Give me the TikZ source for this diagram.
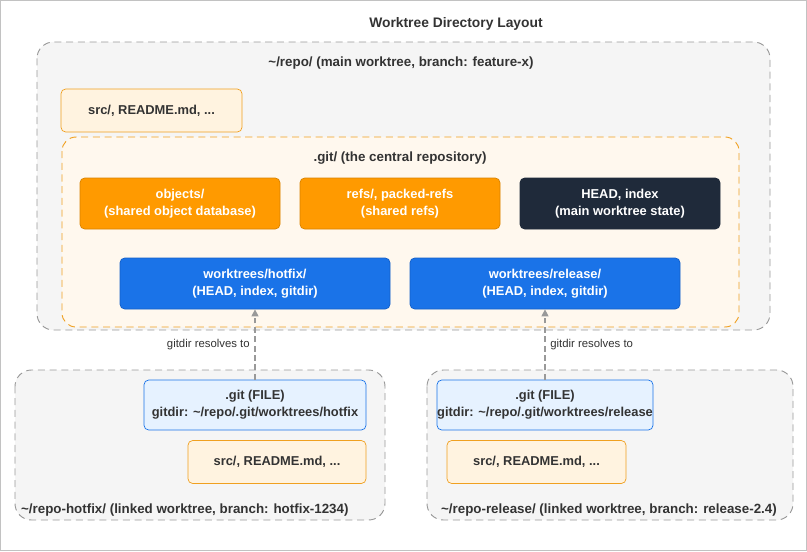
\documentclass[tikz,border=0pt]{standalone}
\usepackage{fontspec}
\setmainfont{Liberation Sans}
\usetikzlibrary{arrows.meta,positioning}
\definecolor{grp_fill}{HTML}{F5F5F5}
\definecolor{grp_line}{HTML}{999999}
\definecolor{git_fill}{HTML}{FFF8EE}
\definecolor{org_line}{HTML}{F0A020}
\definecolor{org_fill}{HTML}{FF9A00}
\definecolor{org_dark}{HTML}{D98300}
\definecolor{lor_fill}{HTML}{FFF3E0}
\definecolor{navy}{HTML}{1F2A3A}
\definecolor{blu_fill}{HTML}{1A73E8}
\definecolor{blu_dark}{HTML}{1560C8}
\definecolor{lbl_fill}{HTML}{E6F2FF}
\definecolor{txt}{HTML}{333333}
\tikzstyle{grp}=[draw=grp_line,fill=grp_fill,dash pattern=on 6pt off 4pt,rounded corners=14pt,line width=0.8pt]
\tikzstyle{gitgrp}=[draw=org_line,fill=git_fill,dash pattern=on 6pt off 4pt,rounded corners=12pt,line width=0.8pt]
\tikzstyle{bx}=[rectangle,rounded corners=4pt,line width=0.6pt,align=center,inner sep=0pt,
  font=\bfseries\fontsize{11}{14.5}\selectfont]
\tikzstyle{ob}=[bx,fill=org_fill,draw=org_dark,text=white,minimum width=200*0.03cm,minimum height=51*0.03cm]
\tikzstyle{nb}=[bx,fill=navy,draw=navy,text=white,minimum width=200*0.03cm,minimum height=51*0.03cm]
\tikzstyle{wb}=[bx,fill=blu_fill,draw=blu_dark,text=white,minimum width=270*0.03cm,minimum height=51*0.03cm]
\tikzstyle{sb}=[bx,fill=lor_fill,draw=org_line,text=txt,minimum height=43*0.03cm]
\tikzstyle{fb}=[bx,fill=lbl_fill,draw=blu_fill,text=txt,minimum height=50*0.03cm]
\tikzstyle{lbl}=[font=\bfseries\fontsize{11.4}{14}\selectfont,text=txt]
\tikzstyle{elbl}=[font=\fontsize{9.7}{11}\selectfont,text=txt,fill=white,inner sep=1pt]
\begin{document}
\begin{tikzpicture}[x=0.03cm,y=-0.03cm]
  \useasboundingbox (0,0) rectangle (807,551);
  \draw[grp_line!60,line width=0.8pt] (0.5,0.5) rectangle (806.5,550.5);
  \node[font=\bfseries\fontsize{11.8}{14}\selectfont,text=txt] (title) at (456,24) {Worktree Directory Layout};
  % main worktree
  \draw[grp] (37,42) rectangle (770,330);
  \node[lbl] (mainlbl) at (401,63) {\textasciitilde/repo/ (main worktree, branch: feature-x)};
  \node[sb,minimum width=181*0.03cm] (msrc) at (151.5,110.5) {src/, README.md, ...};
  % .git dir
  \draw[gitgrp] (62,137) rectangle (739,327);
  \node[lbl] (gitlbl) at (400,158) {.git/ (the central repository)};
  \node[ob] (obj) at (180,203.5) {objects/\\(shared object database)};
  \node[ob] (refs) at (400,203.5) {refs/, packed-refs\\(shared refs)};
  \node[nb] (head) at (620,203.5) {HEAD, index\\(main worktree state)};
  \node[wb] (wthf) at (255,283.5) {worktrees/hotfix/\\(HEAD, index, gitdir)};
  \node[wb] (wtrl) at (545,283.5) {worktrees/release/\\(HEAD, index, gitdir)};
  % linked worktrees
  \draw[grp] (15,370) rectangle (385,520);
  \draw[grp] (427,370) rectangle (793,520);
  \node[lbl,anchor=west] (hflbl) at (17,510) {\textasciitilde/repo-hotfix/ (linked worktree, branch: hotfix-1234)};
  \node[lbl,anchor=west] (rllbl) at (437,510) {\textasciitilde/repo-release/ (linked worktree, branch: release-2.4)};
  \node[fb,minimum width=222*0.03cm] (hfgit) at (255,405) {.git (FILE)\\gitdir: \textasciitilde/repo/.git/worktrees/hotfix};
  \node[sb,minimum width=178*0.03cm] (hfsrc) at (277,462) {src/, README.md, ...};
  \node[fb,minimum width=216*0.03cm] (rlgit) at (545,405) {.git (FILE)\\gitdir: \textasciitilde/repo/.git/worktrees/release};
  \node[sb,minimum width=179*0.03cm] (rlsrc) at (536.5,462) {src/, README.md, ...};
  % gitdir links
  \draw[grp_line,line width=1pt,dash pattern=on 5pt off 3pt,-{Triangle[length=6pt,width=6pt]}] (hfgit) -- (wthf)
    node[elbl,midway,left=3pt] {gitdir resolves to};
  \draw[grp_line,line width=1pt,dash pattern=on 5pt off 3pt,-{Triangle[length=6pt,width=6pt]}] (rlgit) -- (wtrl)
    node[elbl,midway,right=3pt] {gitdir resolves to};
\end{tikzpicture}
\end{document}
